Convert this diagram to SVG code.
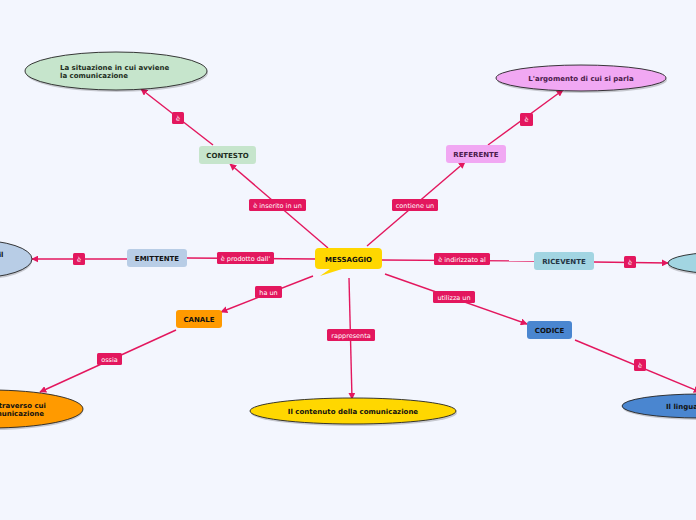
<svg xmlns="http://www.w3.org/2000/svg" width="696" height="520" viewBox="0 0 696 520">
<defs>
<style>
.c{stroke:#e3175e;stroke-width:1.4;fill:none}
.lb{fill:#e3175e}
.lt{font-family:"DejaVu Sans",sans-serif;font-size:6.5px;fill:#fff;text-anchor:middle}
.nt{font-family:"DejaVu Sans",sans-serif;font-size:7px;font-weight:bold;text-anchor:middle}
.et{font-family:"DejaVu Sans",sans-serif;font-size:7px;font-weight:bold}
.el{stroke:#222;stroke-width:0.9}
.sh{fill:#000;opacity:0.18}
</style>
<marker id="a" viewBox="0 0 10 10" refX="9" refY="5" markerWidth="7" markerHeight="7" markerUnits="userSpaceOnUse" orient="auto">
<path d="M0,0 L10,5 L0,10 z" fill="#e3175e"/>
</marker>
</defs>
<rect width="696" height="520" fill="#f3f6fe"/>
<g id="connectors">
<line class="c" x1="328" y1="248" x2="230" y2="164" marker-end="url(#a)"/>
<line class="c" x1="213" y1="145" x2="141" y2="89" marker-end="url(#a)"/>
<line class="c" x1="367" y1="246" x2="465" y2="162" marker-end="url(#a)"/>
<line class="c" x1="488" y1="145" x2="563" y2="90" marker-end="url(#a)"/>
<line class="c" x1="187" y1="258" x2="316" y2="259"/>
<line class="c" x1="127" y1="259" x2="32" y2="259" marker-end="url(#a)"/>
<line class="c" x1="381" y1="260" x2="534" y2="261"/>
<line class="c" x1="594" y1="262" x2="668" y2="263" marker-end="url(#a)"/>
<line class="c" x1="313" y1="276" x2="221" y2="312" marker-end="url(#a)"/>
<line class="c" x1="176" y1="330" x2="40" y2="392" marker-end="url(#a)"/>
<line class="c" x1="349" y1="278" x2="352" y2="399" marker-end="url(#a)"/>
<line class="c" x1="385" y1="274" x2="527" y2="324" marker-end="url(#a)"/>
<line class="c" x1="575" y1="340" x2="700" y2="392" marker-end="url(#a)"/>
<rect class="lb" x="249" y="199" width="57" height="12" rx="1.5"/><text class="lt" x="277.5" y="207.5">è inserito in un</text>
<rect class="lb" x="172" y="112" width="12" height="12" rx="1.5"/><text class="lt" x="178" y="120.5">è</text>
<rect class="lb" x="392" y="199" width="46" height="12" rx="1.5"/><text class="lt" x="415" y="207.5">contiene un</text>
<rect class="lb" x="520" y="113" width="13" height="13" rx="1.5"/><text class="lt" x="526.5" y="122">è</text>
<rect class="lb" x="217" y="252" width="57" height="12" rx="1.5"/><text class="lt" x="245.5" y="260.5">è prodotto dall'</text>
<rect class="lb" x="73" y="253" width="12" height="12" rx="1.5"/><text class="lt" x="79" y="261.5">è</text>
<rect class="lb" x="434" y="253" width="56" height="12" rx="1.5"/><text class="lt" x="462" y="261.5">è indirizzato al</text>
<rect class="lb" x="624" y="256" width="12" height="12" rx="1.5"/><text class="lt" x="630" y="264.5">è</text>
<rect class="lb" x="255" y="286" width="27" height="12" rx="1.5"/><text class="lt" x="268.5" y="294.5">ha un</text>
<rect class="lb" x="97" y="353" width="25" height="12" rx="1.5"/><text class="lt" x="109.5" y="361.5">ossia</text>
<rect class="lb" x="327" y="329" width="48" height="12" rx="1.5"/><text class="lt" x="351" y="337.5">rappresenta</text>
<rect class="lb" x="433" y="291" width="42" height="12" rx="1.5"/><text class="lt" x="454" y="299.5">utilizza un</text>
<rect class="lb" x="634" y="359" width="12" height="12" rx="1.5"/><text class="lt" x="640" y="367.5">è</text>
</g>
<g id="messaggio">
<path d="M319,248 H378 Q382,248 382,252 V265 Q382,269 378,269 H342 L320,276 L330,269 H319 Q315,269 315,265 V252 Q315,248 319,248 z" fill="#ffd700"/>
<text class="nt" x="348.5" y="261.5" fill="#111">MESSAGGIO</text>
</g>
<g id="contesto">
<rect x="199" y="146" width="57" height="18" rx="3" fill="#c6e5cc"/>
<text class="nt" x="227.5" y="158" fill="#1e2e22">CONTESTO</text>
</g>
<g id="referente">
<rect x="446" y="145" width="60" height="18" rx="3" fill="#f1a8f3"/>
<text class="nt" x="476" y="157" fill="#4a1a4a">REFERENTE</text>
</g>
<g id="emittente">
<rect x="127" y="249" width="60" height="18" rx="3" fill="#b8cde6"/>
<text class="nt" x="157" y="261" fill="#111">EMITTENTE</text>
</g>
<g id="ricevente">
<rect x="534" y="252" width="60" height="18" rx="3" fill="#a2d5e2"/>
<text class="nt" x="564" y="264" fill="#243444">RICEVENTE</text>
</g>
<g id="canale">
<rect x="176" y="310" width="46" height="18" rx="3" fill="#ff9a00"/>
<text class="nt" x="199" y="322" fill="#111">CANALE</text>
</g>
<g id="codice">
<rect x="527" y="321" width="45" height="18" rx="3" fill="#4a86d0"/>
<text class="nt" x="549.5" y="333" fill="#111">CODICE</text>
</g>
<g id="situazione">
<ellipse class="sh" cx="117" cy="73" rx="91" ry="19"/>
<ellipse class="el" cx="116" cy="71" rx="91" ry="19" fill="#c6e5cc"/>
<text class="et" x="60" y="70" fill="#1e2e22">La situazione in cui avviene</text>
<text class="et" x="60" y="78" fill="#1e2e22">la comunicazione</text>
</g>
<g id="argomento">
<ellipse class="sh" cx="582" cy="80" rx="85" ry="13"/>
<ellipse class="el" cx="581" cy="78" rx="85" ry="13" fill="#f1a8f3"/>
<text class="et" x="581" y="80.5" text-anchor="middle" fill="#4a1a4a">L'argomento di cui si parla</text>
</g>
<g id="emittente-def">
<ellipse class="sh" cx="-25" cy="261" rx="57" ry="19"/>
<ellipse class="el" cx="-26" cy="259" rx="58" ry="19" fill="#b8cde6"/>
<text class="et" x="3.5" y="257" text-anchor="end" fill="#111">il</text>
</g>
<g id="ricevente-def">
<ellipse class="sh" cx="726" cy="265" rx="58" ry="11"/>
<ellipse class="el" cx="726" cy="263" rx="58" ry="11" fill="#a2d5e2"/>
</g>
<g id="contenuto">
<ellipse class="sh" cx="354" cy="413" rx="103" ry="13"/>
<ellipse class="el" cx="353" cy="411" rx="103" ry="13" fill="#ffd700"/>
<text class="et" x="353" y="413.5" text-anchor="middle" fill="#111">Il contenuto della comunicazione</text>
</g>
<g id="mezzo">
<ellipse class="sh" cx="-9" cy="411" rx="92" ry="19"/>
<ellipse class="el" cx="-10" cy="409" rx="93" ry="19" fill="#ff9a00"/>
<text class="et" x="46" y="408" text-anchor="end" fill="#111">attraverso cui</text>
<text class="et" x="44" y="416" text-anchor="end" fill="#111">comunicazione</text>
</g>
<g id="linguaggio">
<ellipse class="sh" cx="701" cy="408" rx="78" ry="12"/>
<ellipse class="el" cx="700" cy="406" rx="78" ry="12" fill="#4a86d0"/>
<text class="et" x="666" y="408.5" fill="#111">Il linguaggio</text>
</g>
</svg>
